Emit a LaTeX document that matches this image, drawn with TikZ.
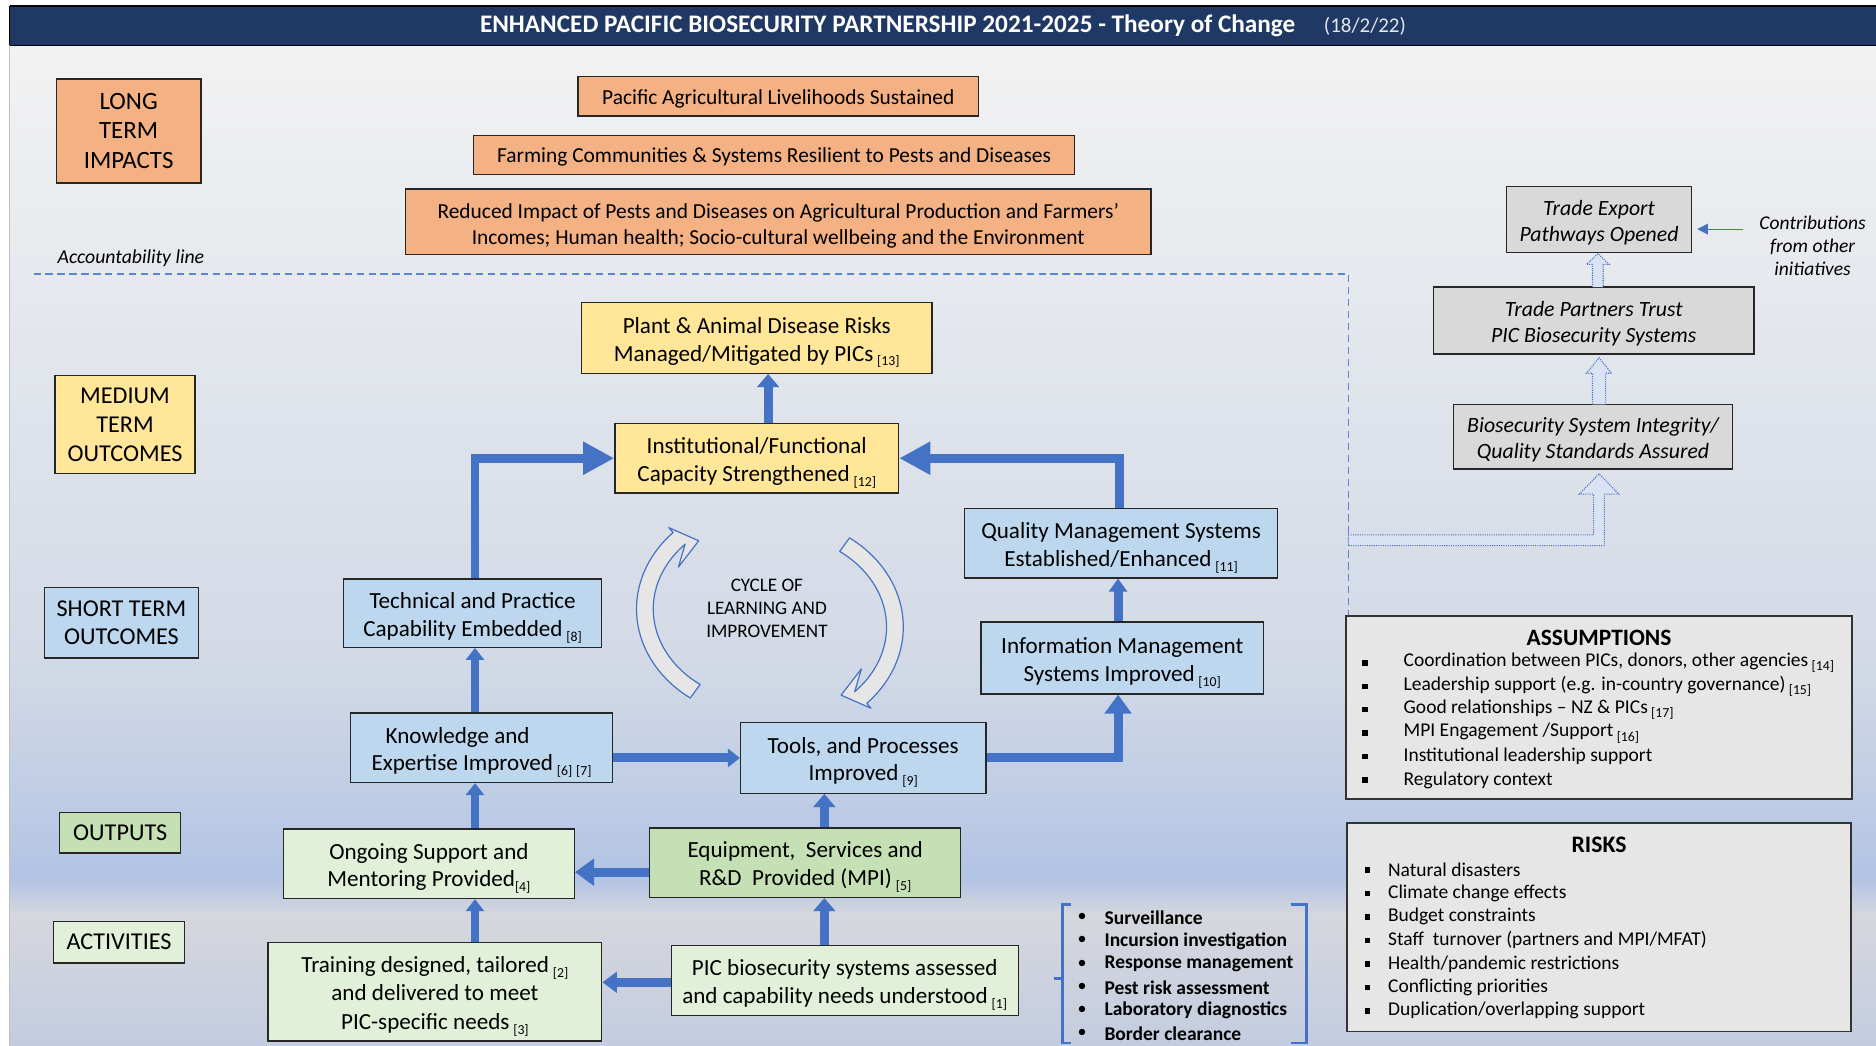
\documentclass[tikz,border=0pt]{standalone}
\usepackage{fontspec}
\setmainfont{Carlito}
\usetikzlibrary{arrows.meta,calc}
\definecolor{navy}{HTML}{1F3864}
\definecolor{orng}{HTML}{F4B183}
\definecolor{yell}{HTML}{FFE699}
\definecolor{lblue}{HTML}{BDD7EE}
\definecolor{grn}{HTML}{C5E0B4}
\definecolor{lgrn}{HTML}{E2F0D9}
\definecolor{gry}{HTML}{D9D9D9}
\definecolor{lgry}{HTML}{E7E6E6}
\definecolor{arrblue}{HTML}{4472C4}
\definecolor{dashblue}{HTML}{5B86D6}
\definecolor{dotfill}{HTML}{DAE3F3}
\definecolor{bgtop}{HTML}{F2F2F2}
\definecolor{bgmid}{HTML}{D2D9E6}
\definecolor{bgblue}{HTML}{B2C4E4}
\definecolor{bggray}{HTML}{D6D7DD}
\definecolor{bgbot}{HTML}{C3CCE0}
\newcommand{\fsz}[2]{\fontsize{#1}{#2}\selectfont}
\newcommand{\refx}[1]{\raisebox{-0.45ex}{\fontsize{11.5}{11.5}\selectfont[#1]}}
\newcommand{\refn}[1]{\,\refx{#1}}
\newcommand{\st}[1]{\rule{0pt}{#1pt}}
\newcommand{\cyclearrow}{%
  plot[domain=126:224,samples=40] ({641+109*cos(\x)},{509+92*sin(\x)})
  -- (559,441) -- (584,452) -- (567,474)
  -- plot[domain=224:126,samples=40] ({641+95*cos(\x)},{509+78*sin(\x)})
  -- cycle}
\begin{document}
\begin{tikzpicture}[x=1pt,y=-1pt,
  bx/.style={draw=black!85, line width=1.1pt, align=center, inner sep=0pt, font=\fsz{19.3}{23.2}},
  ltb/.style={draw=black!85, line width=1.1pt, align=center, inner sep=0pt, fill=orng, font=\fsz{17.9}{22}},
  lbl/.style={draw=black!85, line width=1.1pt, align=center, inner sep=0pt, font=\fsz{20.2}{24}},
  rbx/.style={draw=black!85, line width=1.1pt, align=center, inner sep=0pt, fill=gry, font=\fsz{18.2}{22}\itshape},
  barr/.style={draw=arrblue, line width=7.5pt},
  tipbig/.style={-{Triangle[width=26pt,length=26pt]}},
  tipmed/.style={-{Triangle[width=22pt,length=16pt]}},
  tipsml/.style={-{Triangle[width=18pt,length=11pt]}},
  dotarr/.style={fill=dotfill, draw=arrblue, densely dotted, line width=0.9pt},
  accline/.style={draw=dashblue, line width=1.3pt, dash pattern=on 6pt off 4pt},
  lst/.style={anchor=west, inner sep=0pt, font=\fsz{16.3}{18}},
  bul/.style={inner sep=0pt},
  brk/.style={draw=arrblue, line width=2pt}
]
\useasboundingbox (0,0) rectangle (1568,874);
% background
\fill[white] (0,0) rectangle (1568,874);
\shade[top color=bgtop, bottom color=bgmid] (8,38) rectangle (1568,560);
\shade[top color=bgmid, bottom color=bgblue] (8,560) rectangle (1568,735);
\shade[top color=bgblue, bottom color=bggray] (8,735) rectangle (1568,765);
\shade[top color=bggray, bottom color=bgbot] (8,765) rectangle (1568,874);
\draw[black!25, line width=0.6pt] (8,38) -- (8,874);
% title bar
\fill[navy] (8,5) rectangle (1568,38);
\draw[black, line width=1.5pt] (8,5) -- (1568,5) (8,38) -- (1568,38) (8,5) -- (8,38);
\node[text=white, inner sep=0pt, anchor=west] (title) at (401,21.5) {\fsz{21.1}{22}\bfseries ENHANCED PACIFIC BIOSECURITY PARTNERSHIP 2021-2025 - Theory of Change\hspace{24pt}\fsz{17.5}{18}\mdseries\color{white!88!navy}(18/2/22)};

% left labels
\node[lbl, fill=orng, minimum width=121pt, minimum height=87pt, font=\fsz{20.8}{25}] (lti) at (107.5,109.5) {LONG\\TERM\\IMPACTS};
\node[lbl, fill=yell, minimum width=117pt, minimum height=82pt] (mto) at (104.5,355) {MEDIUM\\TERM\\OUTCOMES};
\node[lbl, fill=lblue, minimum width=129pt, minimum height=59pt] (sto) at (101.5,520.5) {SHORT TERM\\OUTCOMES};
\node[lbl, fill=grn, minimum width=101pt, minimum height=34pt] (outp) at (100.5,696) {OUTPUTS};
\node[lbl, fill=lgrn, minimum width=109pt, minimum height=35pt] (act) at (99.5,787.5) {ACTIVITIES};

% long-term impacts
\node[ltb, minimum width=335pt, minimum height=33pt] (lt1) at (650.5,80.5) {\st{16.5}Pacific Agricultural Livelihoods Sustained};
\node[ltb, minimum width=502pt, minimum height=33pt] (lt2) at (647,129.5) {\st{16.5}Farming Communities \& Systems Resilient to Pests and Diseases};
\node[ltb, minimum width=623pt, minimum height=55pt] (lt3) at (650.5,185.5) {\st{18.5}Reduced Impact of Pests and Diseases on Agricultural Production and Farmers'\\Incomes; Human health; Socio-cultural wellbeing and the Environment};

% accountability line
\node[anchor=west, inner sep=0pt, font=\fsz{16.5}{18}\itshape] (acct) at (48,216) {Accountability line};
\coordinate (accL) at (28,229);
\coordinate (accC) at (1127,229);

% right-hand boxes
\node[rbx, minimum width=155pt, minimum height=55pt] (tep) at (1336.5,183.5) {\st{18}Trade Export\\Pathways Opened};
\node[rbx, minimum width=268pt, minimum height=56pt] (tpt) at (1332,268) {\st{18}Trade Partners Trust\\PIC Biosecurity Systems};
\node[rbx, minimum width=233pt, minimum height=54pt] (bsi) at (1331.5,365) {\st{18}Biosecurity System Integrity/\\Quality Standards Assured};
\node[align=center, inner sep=0pt, font=\fsz{16.3}{19.3}\itshape] (contrib) at (1515,205.5) {Contributions\\from other\\initiatives};
\coordinate (cstart) at (1457,191.5);

% assumptions & risks
\node[draw=black!80, line width=1.3pt, fill=lgry, minimum width=423pt, minimum height=153pt, inner sep=0pt] (assump) at (1336.5,591.5) {};
\node[font=\fsz{19.6}{20}\bfseries, inner sep=0pt] (asst) at (1336.5,533.5) {ASSUMPTIONS};
\foreach \t [count=\i] in {{Coordination between PICs, donors, other agencies\refn{14}},{Leadership support (e.g. in-country governance)\refn{15}},{Good relationships -- NZ \& PICs\refn{17}},{MPI Engagement /Support\refn{16}},{Institutional leadership support},{Regulatory context}}{
  \node[bul] (ab\i) at (1141,{554+(\i-1)*19.6}) {\rule{4.5pt}{4.5pt}};
  \node[lst] (at\i) at (1173,{554+(\i-1)*19.6}) {\t};
}
\node[draw=black!80, line width=1.3pt, fill=lgry, minimum width=421pt, minimum height=174pt, inner sep=0pt] (risks) at (1336.5,775) {};
\node[font=\fsz{19.8}{20}\bfseries, inner sep=0pt] (rskt) at (1336.5,706) {RISKS};
\foreach \t [count=\i] in {{Natural disasters},{Climate change effects},{Budget constraints},{Staff~ turnover (partners and MPI/MFAT)},{Health/pandemic restrictions},{Conflicting priorities},{Duplication/overlapping support}}{
  \node[bul] (rb\i) at (1143,{727+(\i-1)*19.65}) {\rule{4.5pt}{4.5pt}};
  \node[lst] (rt\i) at (1160,{727+(\i-1)*19.65}) {\t};
}

% central flow boxes
\node[bx, fill=yell, minimum width=293pt, minimum height=59pt] (plant) at (632.5,282.5) {\st{21}Plant \& Animal Disease Risks\\Managed/Mitigated by PICs\refn{13}};
\node[bx, fill=yell, minimum width=237pt, minimum height=58pt] (inst) at (632.5,383) {\st{21}Institutional/Functional\\Capacity Strengthened\refn{12}};
\node[bx, fill=lblue, minimum width=262pt, minimum height=58pt] (qms) at (937,454) {\st{21}Quality Management Systems\\Established/Enhanced\refn{11}};
\node[bx, fill=lblue, minimum width=236pt, minimum height=60pt] (ims) at (938,550) {\st{21}Information Management\\Systems Improved\refn{10}};
\node[bx, fill=lblue, minimum width=216pt, minimum height=57pt] (tech) at (395,512.5) {\st{21}Technical and Practice\\Capability Embedded\refn{8}};
\node[bx, fill=lblue, minimum width=219pt, minimum height=58pt] (know) at (402.5,625) {\st{21}Knowledge and\hspace*{40pt}\\Expertise Improved\refn{6}\refn{7}};
\node[bx, fill=lblue, minimum width=205pt, minimum height=59pt] (tools) at (721.5,633.5) {\st{21}Tools, and Processes\\Improved\refn{9}};
\node[bx, fill=lgrn, minimum width=243pt, minimum height=58pt] (ong) at (358.5,722) {\st{21}Ongoing Support and\\Mentoring Provided\refx{4}};
\node[bx, fill=grn, minimum width=260pt, minimum height=58pt] (equip) at (673,721) {\st{21}Equipment,~ Services and\\R\&D~ Provided (MPI)\refn{5}};
\node[bx, fill=lgrn, minimum width=279pt, minimum height=82pt, font=\fsz{19.3}{23.5}] (train) at (363.5,829) {\st{21}Training designed, tailored\refn{2}\\and delivered to meet\\PIC-specific needs\refn{3}};
\node[bx, fill=lgrn, minimum width=290pt, minimum height=59pt] (pic) at (706,819.5) {\st{21}PIC biosecurity systems assessed\\and capability needs understood\refn{1}};

% cycle of learning
\node[align=center, inner sep=0pt, font=\fsz{16}{19.5}] (cycle) at (641,508.5) {CYCLE OF\\LEARNING AND\\IMPROVEMENT};
\fill[lgry] \cyclearrow;
\draw[arrblue, line width=1pt, line join=round] \cyclearrow;
\begin{scope}[rotate around={180:(643.5,516.5)}]
\fill[lgry] \cyclearrow;
\draw[arrblue, line width=1pt, line join=round] \cyclearrow;
\end{scope}

% bracket list
\draw[brk] (895,756) -- (888,756) -- (888,872) -- (895,872);
\draw[brk] (881,818) -- (888,818);
\draw[brk] (1079,756) -- (1092,756) -- (1092,872) -- (1079,872);
\foreach \t [count=\i] in {Surveillance,Incursion investigation,Response management,Pest risk assessment,Laboratory diagnostics,Border clearance}{
  \node[bul, font=\fsz{15}{18}] (kb\i) at (904.5,{767+(\i-1)*19.4}) {•};
  \node[lst, font=\fsz{16.3}{18}\bfseries] (kt\i) at (923,{767+(\i-1)*19.4}) {\t};
}

% accountability dashed line
\draw[accline] (accL) -- (accC) -- (accC |- assump.north);

% dotted block arrows (right)
\draw[dotarr] (1127,447) -- (1332,447) -- (1332,413) -- (1320,413) -- (1336.5,396) -- (1353,413) -- (1341,413) -- (1341,456) -- (1127,456) -- cycle;
\draw[dotarr] (1331,338) -- (1331,312) -- (1326,312) -- (1336.5,299) -- (1347,312) -- (1342,312) -- (1342,338);
\draw[dotarr] (1331,240) -- (1331,221) -- (1326,221) -- (1335.5,212) -- (1345,221) -- (1340,221) -- (1340,240);
\draw[arrblue, line width=1pt, -{Triangle[width=9pt,length=9pt]}] (cstart) -- ([xshift=4pt]cstart -| tep.east);

% blue flow arrows
\coordinate (cx) at (397,0);
\coordinate (qx) at (936,0);
\coordinate (ix) at (934.5,0);
\coordinate (px) at (642,0);
\coordinate (ex) at (689,0);
\draw[barr, tipsml] (inst.north -| px) -- (plant.south -| px);
\draw[barr, tipbig] (tech.north -| cx) |- (inst.west);
\draw[barr, tipbig] (qms.north -| qx) |- (inst.east);
\draw[barr, -{Triangle[width=15pt,length=11pt]}] (ims.north -| ix) -- (qms.south -| ix);
\draw[barr, -{Triangle[width=15pt,length=10pt]}] (know.north -| cx) -- (tech.south -| cx);
\draw[barr, -{Triangle[width=15pt,length=10pt]}] (know.east |- tools.west) -- (tools.west);
\draw[barr, tipmed] (tools.east) -| (ix |- ims.south);
\draw[barr, -{Triangle[width=15pt,length=10pt]}] (ong.north -| cx) -- (know.south -| cx);
\draw[barr, tipmed] ([yshift=-8pt]equip.west) -- ([yshift=-7pt]ong.east);
\draw[barr, tipsml] (equip.north -| ex) -- (tools.south -| ex);
\draw[barr, -{Triangle[width=15pt,length=10pt]}] (train.north -| cx) -- (ong.south -| cx);
\draw[barr, tipsml] (pic.north -| ex) -- (equip.south -| ex);
\draw[barr, -{Triangle[width=17pt,length=12pt]}] ([yshift=-1.5pt]pic.west) -- ([yshift=-1.5pt]pic.west -| train.east);
\end{tikzpicture}
\end{document}
